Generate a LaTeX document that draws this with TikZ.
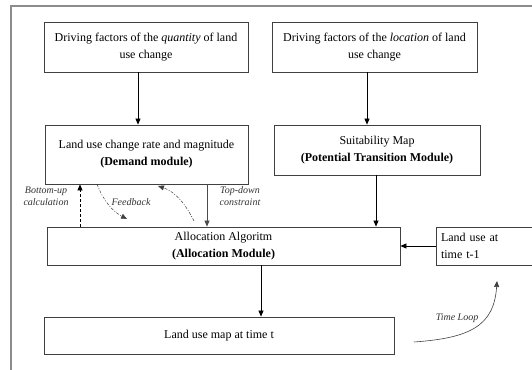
\documentclass[tikz,border=0pt]{standalone}
\usepackage{fontspec}
\setmainfont{Liberation Serif}
\usetikzlibrary{arrows.meta}
\definecolor{frame}{HTML}{8C8C8C}
\definecolor{boxline}{HTML}{404040}
\definecolor{labelc}{HTML}{333333}
\tikzset{
  box/.style={draw=boxline, line width=0.8pt, inner sep=2pt, align=center, font=\fontsize{12}{17}\selectfont, anchor=center},
  arr/.style={draw=black, line width=0.7pt, -{Triangle[length=6pt,width=5pt]}},
  darr/.style={arr, dash pattern=on 3pt off 2pt},
  fbarr/.style={arr, draw=black!75, line width=0.5pt, dash pattern=on 3pt off 1.5pt on 1pt off 1.5pt},
  lab/.style={font=\itshape\fontsize{10}{12}\selectfont, text=labelc, align=center, inner sep=0pt},
}
\begin{document}
\begin{tikzpicture}[x=1pt,y=-1pt]
\useasboundingbox (0,0) rectangle (532,369);
% outer frame
\draw[frame, line width=1.1pt] (11,372) -- (11,6) -- (536,6);

\node[box, minimum width=204pt, minimum height=50pt] (q) at (146,47)
  {Driving factors of the \textit{quantity} of land\\use change};
\node[box, minimum width=205pt, minimum height=50pt] (l) at (374.5,47)
  {Driving factors of the \textit{location} of land\\use change};
\node[box, minimum width=203pt, minimum height=59pt] (d) at (146.5,154.5)
  {Land use change rate and magnitude\\\textbf{(Demand module)}};
\node[box, minimum width=206pt, minimum height=50pt] (s) at (377,150)
  {Suitability Map\\\textbf{(Potential Transition Module)}};
\node[box, minimum width=353pt, minimum height=38pt] (a) at (223.5,246)
  {Allocation Algoritm\\\textbf{(Allocation Module)}};
\node[box, minimum width=110pt, minimum height=38pt, align=left, text width=100pt, inner sep=3pt] (t) at (491,246)
  {Land use at\\time t-1};
\node[box, minimum width=350pt, minimum height=37pt] (m) at (219,335.5)
  {Land use map at time t};

% arrow x positions
\coordinate (x1) at (138,0);
\coordinate (x2) at (367,0);
\coordinate (x3) at (376,0);
\coordinate (xtd) at (207,0);
\coordinate (xbu) at (80,0);
\coordinate (xam) at (261,0);

\draw[arr] (q.south -| x1) -- (d.north -| x1);
\draw[arr] (l.south -| x2) -- (s.north -| x2);
\draw[arr] (s.south -| x3) -- (a.north -| x3);
\draw[arr, draw=black!70] (d.south -| xtd) -- (a.north -| xtd);
\draw[darr] (a.north -| xbu) -- (d.south -| xbu);
\draw[arr] (a.south -| xam) -- (m.north -| xam);
\draw[arr] (t.west) -- (a.east);

% feedback curves
\coordinate (f1s) at (97,184);
\coordinate (f1e) at (127,219);
\coordinate (f2s) at (194,221);
\coordinate (f2e) at (158,186);
\draw[fbarr] (f1s) .. controls (103,200) and (112,211) .. (f1e);
\draw[fbarr] (f2s) .. controls (186,205) and (176,192) .. (f2e);

% time loop
\coordinate (tls) at (414,342);
\coordinate (tle) at (497,281);
\draw[arr, draw=black!75, line width=0.6pt] (tls) .. controls (470,338) and (494,326) .. (tle);

\node[lab] (bu) at (46,196) {Bottom-up\\calculation};
\node[lab] (td) at (240,196) {Top-down\\constraint};
\node[lab] (fb) at (131,202) {Feedback};
\node[lab] (tl) at (457,318) {Time Loop};
\end{tikzpicture}
\end{document}
